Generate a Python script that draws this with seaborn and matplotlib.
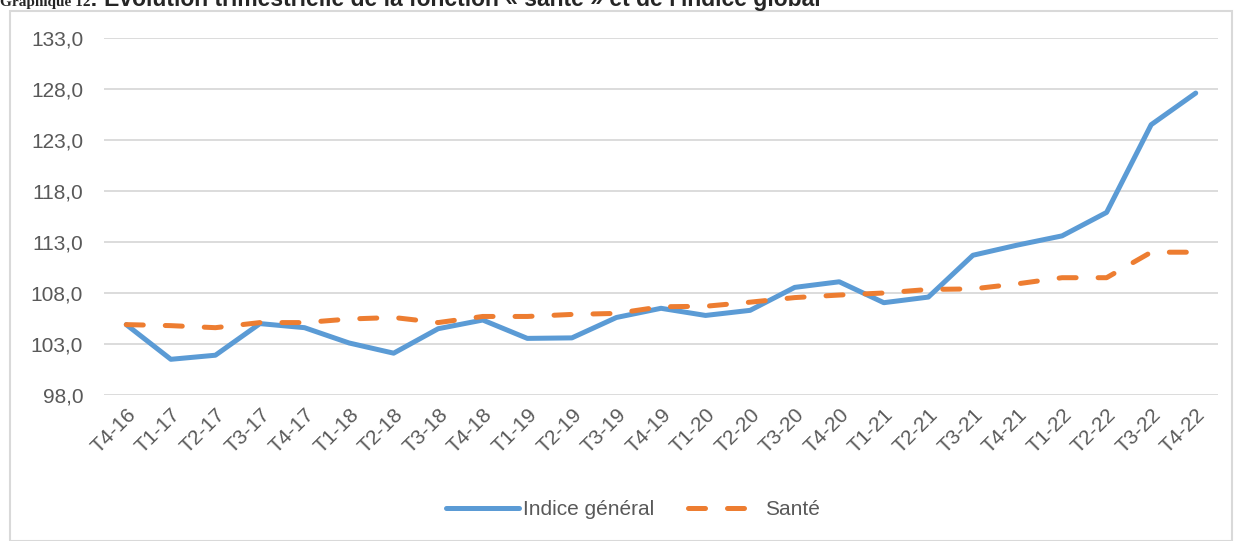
import pandas as pd
import matplotlib.pyplot as plt
import matplotlib.patches as mpatches
import seaborn as sns

# Data
quarters = ['T4-16', 'T1-17', 'T2-17', 'T3-17', 'T4-17', 'T1-18', 'T2-18', 'T3-18', 'T4-18',
            'T1-19', 'T2-19', 'T3-19', 'T4-19', 'T1-20', 'T2-20', 'T3-20', 'T4-20',
            'T1-21', 'T2-21', 'T3-21', 'T4-21', 'T1-22', 'T2-22', 'T3-22', 'T4-22']
indice_general = [104.9, 101.5, 101.9, 105.0, 104.6, 103.1, 102.1, 104.5, 105.35,
                  103.55, 103.6, 105.6, 106.5, 105.8, 106.3, 108.55, 109.1,
                  107.05, 107.6, 111.7, 112.7, 113.6, 115.9, 124.5, 127.6]
sante = [104.9, 104.8, 104.6, 105.1, 105.1, 105.45, 105.6, 105.1, 105.7,
         105.7, 105.9, 106.0, 106.65, 106.7, 107.1, 107.55, 107.8,
         108.0, 108.35, 108.4, 108.9, 109.5, 109.5, 112.0, 112.0]
yticks = [98, 103, 108, 113, 118, 123, 128, 133]

df = pd.DataFrame({'pos': range(len(quarters)), 'Indice général': indice_general, 'Santé': sante})

sns.set_style('white')
plt.rcParams['font.family'] = ['Liberation Sans', 'DejaVu Sans']

fig = plt.figure(figsize=(12.34, 5.41), dpi=100)
ax = fig.add_axes([104 / 1234, 1 - 395 / 541, (1218 - 104) / 1234, (395 - 38) / 541])

sns.lineplot(data=df, x='pos', y='Indice général', ax=ax, color='#5B9BD5', linewidth=3.6,
             label='Indice général', solid_capstyle='round', solid_joinstyle='round')
sns.lineplot(data=df, x='pos', y='Santé', ax=ax, color='#ED7D31', linewidth=3.6,
             label='Santé', dashes=(3.4, 4.4), dash_capstyle='round')

ax.set_xlim(-0.5, len(quarters) - 0.5)
ax.set_ylim(98, 133)
ax.set_yticks(yticks)
ax.set_yticklabels([f'{v:.1f}'.replace('.', ',') for v in yticks])
ax.set_xticks(range(len(quarters)))
ax.set_xticklabels(quarters, rotation=45, ha='right', rotation_mode='anchor')
ax.tick_params(axis='both', length=0, labelsize=15, colors='#595959')
ax.tick_params(axis='y', pad=15)
ax.tick_params(axis='x', pad=7)
ax.yaxis.grid(True, color='#D9D9D9', linewidth=1.3)
ax.set_xlabel('')
ax.set_ylabel('')
for s in ax.spines.values():
    s.set_visible(False)

ax.legend(loc='center', bbox_to_anchor=(0.475, -0.322), ncol=2, frameon=False,
          fontsize=15, handlelength=3.5, handletextpad=0.2, columnspacing=1.6,
          labelcolor='#595959')

# chart frame
fig.patches.append(mpatches.Rectangle((10 / 1234, 0), 1 - 10 / 1234 - 0.0015, 1 - 11 / 541,
                                      transform=fig.transFigure, fill=False,
                                      edgecolor='#D9D9D9', linewidth=1.5))

# title, partly cut by the top edge
t1 = fig.text(0.0, 1 - 6 / 541, 'Graphique 12', fontsize=11, fontweight='bold',
              family=['Liberation Serif', 'DejaVu Serif'], va='baseline')
fig.canvas.draw()
x_end = t1.get_window_extent().x1 / fig.bbox.width
fig.text(x_end, 1 - 6 / 541,
         ": Evolution trimestrielle de la fonction « santé » et de l'indice global",
         fontsize=16.5, fontweight='bold', va='baseline')

fig.savefig('out.png', dpi=100)
